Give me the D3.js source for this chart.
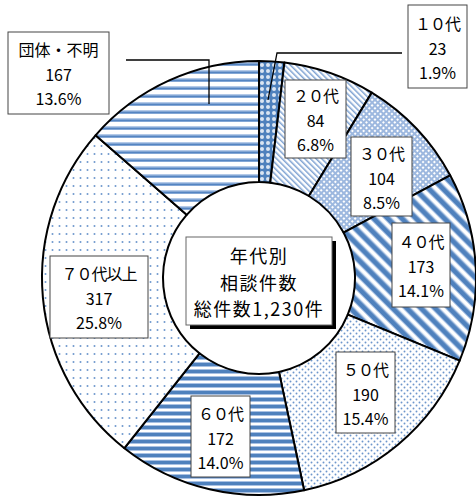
<!DOCTYPE html>
<html>
<head>
<meta charset="utf-8">
<script src="https://cdn.jsdelivr.net/npm/d3@7"></script>
<style>
  body { margin: 0; background: #fff; }
  svg text { font-family: "Noto Sans CJK JP", "Noto Sans", sans-serif; fill: #000; }
</style>
</head>
<body>
<div id="chart"></div>
<script>
// data
const categories = ["１０代", "２０代", "３０代", "４０代", "５０代", "６０代", "７０代以上", "団体・不明"];
const counts = [23, 84, 104, 173, 190, 172, 317, 167];
const centerLines = ["年代別", "相談件数", "総件数1,230件"];

// layout: label boxes relative to the ring centre [dx, dy, w, h]
const labelBoxes = [
  [178.5, -231.5, 59, 83],
  [56.5, -159, 61, 78],
  [122.5, -101.5, 61, 79],
  [162, -13, 58, 84],
  [106.5, 114.5, 59, 81],
  [-38.5, 158.5, 59, 81],
  [-160, 19, 98, 82],
  [-200.5, -205, 101, 82]
];
// leader lines for the labels that sit outside the ring
const leaders = [
  { index: 0, points: [[9, -178], [18, -225], [143, -225]] },
  { index: 7, points: [[-50, -174], [-50, -218], [-133, -218]] }
];

const width = 476, height = 500;
const cx = 259, cy = 278;
const outerR = 217, innerR = 96;
const blue = "#4f81bd", lightBlue = "#a9c1e3";

const svg = d3.select("#chart").append("svg")
  .attr("width", width)
  .attr("height", height);

const defs = svg.append("defs");

function pattern(id, w, h, transform) {
  const p = defs.append("pattern")
    .attr("id", id)
    .attr("patternUnits", "userSpaceOnUse")
    .attr("width", w)
    .attr("height", h);
  if (transform) p.attr("patternTransform", transform);
  return p;
}

// 10代: blue with light bubbles
let p = pattern("p0", 6, 6);
p.append("rect").attr("width", 6).attr("height", 6).attr("fill", blue);
p.append("circle").attr("cx", 3).attr("cy", 3).attr("r", 2).attr("fill", "#dbe5f2");

// 20代: thin light diagonal lines
p = pattern("p1", 4, 4, "rotate(-45)");
p.append("rect").attr("width", 4).attr("height", 4).attr("fill", "#fff");
p.append("rect").attr("width", 1.5).attr("height", 4).attr("fill", "#7ea2d2");

// 30代: light diamond lattice
p = pattern("p2", 4, 4, "rotate(45)");
p.append("rect").attr("width", 4).attr("height", 4).attr("fill", "#9db8df");
p.append("rect").attr("x", 1).attr("y", 1).attr("width", 2).attr("height", 2).attr("fill", "#fff");

// 40代: wide diagonal stripes
p = pattern("p3", 10, 10, "rotate(-45)");
p.append("rect").attr("width", 10).attr("height", 10).attr("fill", "#fff");
p.append("rect").attr("width", 6.5).attr("height", 10).attr("fill", lightBlue);
p.append("rect").attr("x", 1).attr("width", 4.5).attr("height", 10).attr("fill", blue);

// 50代: dense dots
p = pattern("p4", 6, 6);
p.append("rect").attr("width", 6).attr("height", 6).attr("fill", "#fff");
p.append("circle").attr("cx", 1.5).attr("cy", 1.5).attr("r", 0.95).attr("fill", "#6d96cc");
p.append("circle").attr("cx", 4.5).attr("cy", 4.5).attr("r", 0.95).attr("fill", "#6d96cc");

// 60代: thick horizontal stripes
p = pattern("p5", 7, 7);
p.append("rect").attr("width", 7).attr("height", 7).attr("fill", "#fff");
p.append("rect").attr("y", 0).attr("width", 7).attr("height", 5).attr("fill", lightBlue);
p.append("rect").attr("y", 1).attr("width", 7).attr("height", 3).attr("fill", blue);

// 70代以上: sparse dots
p = pattern("p6", 7, 8);
p.append("rect").attr("width", 7).attr("height", 8).attr("fill", "#fff");
p.append("circle").attr("cx", 3.5).attr("cy", 4).attr("r", 1).attr("fill", "#6f98cd");

// 団体・不明: thin horizontal stripes
p = pattern("p7", 8, 8);
p.append("rect").attr("width", 8).attr("height", 8).attr("fill", "#fff");
p.append("rect").attr("y", 0).attr("width", 8).attr("height", 4).attr("fill", "#b4cae8");
p.append("rect").attr("y", 1.5).attr("width", 8).attr("height", 2).attr("fill", "#5585c2");

const total = d3.sum(counts);
const pct = d3.format(".1%");

const pie = d3.pie().sort(null).value(d => d)(counts);
const arc = d3.arc().innerRadius(innerR).outerRadius(outerR);

const g = svg.append("g").attr("transform", `translate(${cx},${cy})`);

g.append("g")
  .selectAll("path")
  .data(pie)
  .join("path")
  .attr("d", arc)
  .attr("fill", (d, i) => `url(#p${i})`)
  .attr("stroke", "#000")
  .attr("stroke-width", 2)
  .attr("stroke-linejoin", "round");

// leader lines
g.append("g")
  .selectAll("path")
  .data(leaders)
  .join("path")
  .attr("d", d => d3.line()(d.points))
  .attr("fill", "none")
  .attr("stroke", "#000")
  .attr("stroke-width", 1.3);

// label boxes
const labels = g.append("g")
  .selectAll("g")
  .data(categories.map((c, i) => ({ name: c, value: counts[i], box: labelBoxes[i] })))
  .join("g")
  .attr("transform", d => `translate(${d.box[0]},${d.box[1]})`);

labels.append("rect")
  .attr("x", d => -d.box[2] / 2)
  .attr("y", d => -d.box[3] / 2)
  .attr("width", d => d.box[2])
  .attr("height", d => d.box[3])
  .attr("fill", "#fff")
  .attr("stroke", "#444")
  .attr("stroke-width", 1);

labels.append("text")
  .attr("text-anchor", "middle")
  .attr("dominant-baseline", "central")
  .attr("y", -24)
  .attr("font-size", 16)
  .attr("letter-spacing", d => /^[０-９]/.test(d.name) ? -1 : 0)
  .text(d => d.name);

labels.append("text")
  .attr("text-anchor", "middle")
  .attr("dominant-baseline", "central")
  .attr("y", 1)
  .attr("font-size", 16)
  .text(d => d.value);

labels.append("text")
  .attr("text-anchor", "middle")
  .attr("dominant-baseline", "central")
  .attr("y", 25)
  .attr("font-size", 16)
  .text(d => pct(d.value / total));

// centre title box with shadow
const cw = 146, ch = 88, cdy = 3;
const centre = g.append("g").attr("transform", `translate(0,${cdy})`);
centre.append("rect")
  .attr("x", -cw / 2 + 4).attr("y", -ch / 2 + 4)
  .attr("width", cw).attr("height", ch)
  .attr("fill", "#000");
centre.append("rect")
  .attr("x", -cw / 2).attr("y", -ch / 2)
  .attr("width", cw).attr("height", ch)
  .attr("fill", "#fff")
  .attr("stroke", "#666")
  .attr("stroke-width", 1);
centre.selectAll("text.title")
  .data(centerLines)
  .join("text")
  .attr("class", "title")
  .attr("text-anchor", "middle")
  .attr("dominant-baseline", "central")
  .attr("y", (d, i) => -26 + i * 26.5)
  .attr("font-size", 18)
  .attr("letter-spacing", 1.5)
  .text(d => d);
</script>
</body>
</html>
